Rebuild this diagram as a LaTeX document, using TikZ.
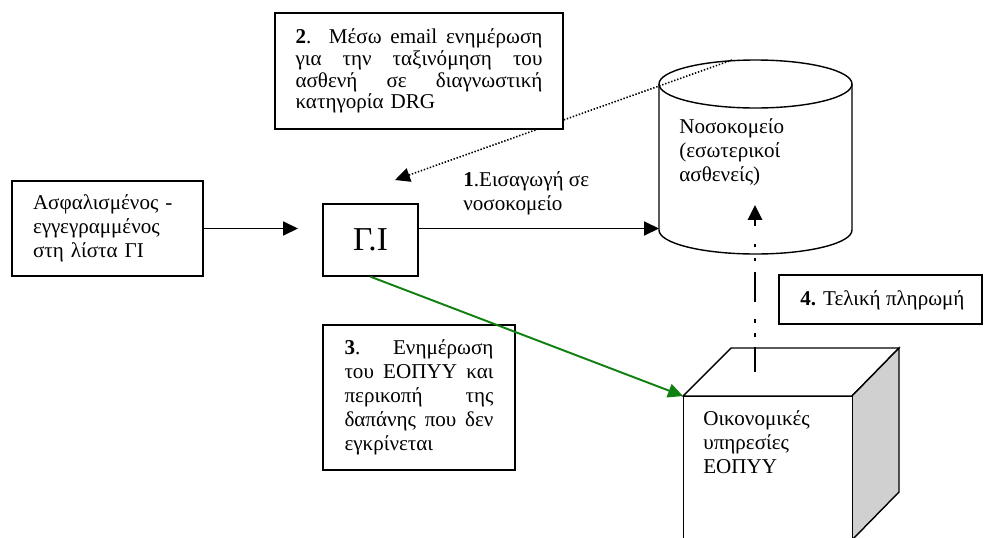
\documentclass[tikz,border=0pt]{standalone}
\usepackage{fontspec}
\setmainfont{Liberation Serif}
\usetikzlibrary{arrows.meta}
\definecolor{greenline}{RGB}{16,128,16}
\definecolor{sidegray}{RGB}{208,208,208}
\newcommand{\spreadline}[2]{\makebox[#1][s]{\spaceskip=0pt\xspaceskip=0pt\relax #2}}
\begin{document}
\begin{tikzpicture}[x=0.02cm, y=0.02cm,
    block/.style={rectangle, draw, line width=0.8pt, fill=white, inner sep=0pt, align=left, font=\fontsize{12}{13.7}\selectfont},
    plain/.style={inner sep=0pt, align=left, font=\fontsize{12}{13.7}\selectfont},
    arrow/.style={-{Triangle[length=8.5pt, width=8pt]}, line width=0.8pt}
]
\useasboundingbox (0,0) rectangle (985,-538);
\clip (0,0) rectangle (985,-538);

% hospital
\draw[line width=0.8pt, fill=white] (659,-84) -- (659,-230) arc[start angle=180, end angle=360, x radius=96.5, y radius=24] -- (852,-84);
\draw[line width=0.8pt] (755.5,-84) ellipse [x radius=96.5, y radius=24];
\coordinate (hospW) at (659,-228.5);
\coordinate (hospTop) at (732,-60);
\coordinate (hospIn) at (755,-205);
\node[plain, anchor=west] (hosp) at (679,-152) {Νοσοκομείο\\(εσωτερικοί\\ασθενείς)};

% finance services
\draw[line width=0.8pt, fill=white] (683,-396) -- (731,-348) -- (899,-348) -- (852,-396) -- cycle;
\draw[line width=0.8pt, fill=sidegray] (852,-396) -- (899,-348) -- (899,-492) -- (852,-540) -- cycle;
\node[block, minimum width=3.38cm, minimum height=3.0cm, anchor=north west] (fin) at (683,-396) {};
\node[plain, anchor=west] (finlbl) at (703,-442) {Οικονομικές\\υπηρεσίες\\ΕΟΠΥΥ};
\coordinate (finTop) at (755,-372);

\node[block, minimum width=3.82cm, minimum height=1.9cm, text width=2.98cm] (insured) at (107.5,-228.5) {Ασφαλισμένος -\\εγγεγραμμένος\\στη λίστα ΓΙ};
\node[block, minimum width=1.9cm, minimum height=1.44cm, align=center, font=\fontsize{19}{21}\selectfont] (gi) at (370.5,-240) {Γ.Ι};
\coordinate (giIn) at (298,-228.5);
\coordinate (giTip) at (395,-180);

\draw[arrow, densely dotted, line width=0.9pt] (hospTop) -- (giTip);

\node[block, minimum width=5.76cm, minimum height=2.32cm, text width=4.94cm, font=\fontsize{12}{12.4}\selectfont] (email) at (419,-71) {\spreadline{4.94cm}{\textbf{2}. Μέσω email ενημέρωση}\\\spreadline{4.94cm}{για την ταξινόμηση του}\\\spreadline{4.94cm}{ασθενή σε διαγνωστική}\\κατηγορία DRG};
\node[block, minimum width=3.84cm, minimum height=2.9cm, text width=2.98cm] (notify) at (419,-397.5) {\spreadline{2.98cm}{\textbf{3}. Ενημέρωση}\\\spreadline{2.98cm}{του ΕΟΠΥΥ και}\\\spreadline{2.98cm}{περικοπή της}\\\spreadline{2.98cm}{δαπάνης που δεν}\\εγκρίνεται};
\node[block, minimum width=4.06cm, minimum height=0.98cm] (pay) at (880.5,-299.5) {};
\node[plain, anchor=west] (paylbl) at (800,-300) {\textbf{4.} Τελική πληρωμή};
\node[plain, anchor=west] (admit) at (463,-193) {\textbf{1}.Εισαγωγή σε\\νοσοκομείο};

\draw[arrow] (insured.east) -- (giIn);
\draw[arrow] (gi.east |- hospW) -- (hospW);
\draw[arrow, draw=greenline, line width=1.1pt] (gi.south) -- (fin.north west);
\draw[arrow, line width=1.7pt, dash pattern=on 17pt off 6pt on 2pt off 6pt on 2pt off 10pt, dash phase=3pt] (finTop) -- (hospIn);
\end{tikzpicture}
\end{document}
